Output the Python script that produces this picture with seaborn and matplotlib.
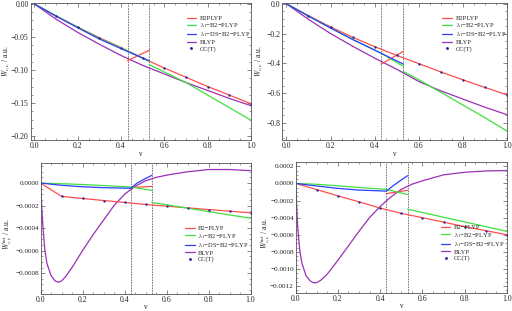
import matplotlib
matplotlib.use('Agg')
import matplotlib.pyplot as plt
import seaborn as sns
import pandas as pd
from matplotlib.ticker import AutoMinorLocator, FuncFormatter, MultipleLocator

sns.set_style('ticks')
plt.rcParams['font.family'] = ['Liberation Serif', 'DejaVu Serif']
plt.rcParams['mathtext.fontset'] = 'stix'

RED = '#ff4d4d'
GREEN = '#3ee03e'
BLUE = '#2f3dff'
PURPLE = '#9b30b5'
DOT = '#2b2b9c'
FRAME = '#555555'

# ---------------- data ----------------
nu_line = [0.0, 0.1, 0.2, 0.3, 0.4, 0.5, 0.6, 0.7, 0.8, 0.9, 1.0]
nu_dots = [0.1, 0.2, 0.3, 0.4, 0.5, 0.6, 0.7, 0.8, 0.9, 1.0]
nu_left = [0.0, 0.1, 0.2, 0.3, 0.43]
nu_mid = [0.43, 0.46, 0.5, 0.53]
nu_low = [0.0, 0.1, 0.2, 0.3, 0.43, 0.53]
nu_high = [0.53, 0.6, 0.7, 0.8, 0.9, 1.0]
nu_x = [0.43, 0.53]
nu_blyp = [0.0, 0.1, 0.2, 0.3, 0.4, 0.5, 0.6, 0.7, 0.8, 0.9, 1.0]
nu_blyp_int = [0.0, 0.01, 0.02, 0.03, 0.05, 0.07, 0.085, 0.1, 0.12, 0.15, 0.2,
               0.25, 0.3, 0.35, 0.4, 0.45, 0.5, 0.55, 0.6, 0.7, 0.8, 0.9, 1.0]

# top left: W_c,nu
tl_b2plyp = [0.0, -0.018, -0.035, -0.051, -0.066, -0.082, -0.097, -0.111, -0.125, -0.138, -0.151]
tl_cc = [-0.018, -0.035, -0.051, -0.066, -0.082, -0.097, -0.111, -0.125, -0.138, -0.151]
tl_b2plyp_x = [-0.086, -0.070]
tl_l1_low = [0.0, -0.018, -0.035, -0.052, -0.071, -0.087]
tl_l1_high = [-0.092, -0.103, -0.119, -0.138, -0.157, -0.176]
tl_ds = [0.0, -0.0185, -0.036, -0.053, -0.072, -0.086]
tl_blyp = [0.0, -0.023, -0.043, -0.061, -0.078, -0.093, -0.106, -0.119, -0.131, -0.143, -0.154]

# top right: W_c,nu
tr_b2plyp = [0.0, -0.080, -0.155, -0.225, -0.288, -0.347, -0.402, -0.458, -0.511, -0.562, -0.612]
tr_cc = [-0.080, -0.155, -0.225, -0.288, -0.347, -0.402, -0.458, -0.511, -0.562, -0.612]
tr_b2plyp_x = [-0.405, -0.320]
tr_l1_low = [0.0, -0.082, -0.162, -0.238, -0.333, -0.420]
tr_l1_high = [-0.455, -0.510, -0.595, -0.680, -0.765, -0.855]
tr_ds = [0.0, -0.083, -0.163, -0.240, -0.333, -0.405]
tr_blyp = [0.0, -0.105, -0.200, -0.285, -0.365, -0.440, -0.522, -0.585, -0.640, -0.695, -0.745]

# bottom left: W^int_c,nu
bl_b2plyp = [0.0, -0.000118, -0.000137, -0.000155, -0.000172, -0.000190,
             -0.000205, -0.000220, -0.000235, -0.000250, -0.000264]
bl_cc = [-0.000118, -0.000137, -0.000155, -0.000172, -0.000190,
         -0.000205, -0.000220, -0.000235, -0.000250, -0.000264]
bl_b2plyp_x = [-0.000040, -0.000030]
bl_l1_low = [0.0, -0.000006, -0.000013, -0.000022, -0.000035, -0.000065]
bl_l1_high = [-0.000172, -0.000193, -0.000223, -0.000253, -0.000283, -0.000312]
bl_ds_left = [0.0, -0.000020, -0.000033, -0.000041, -0.000046]
bl_ds_mid = [-0.000046, 0.0, 0.000040, 0.000068]
bl_blyp = [0.0, -0.00035, -0.00058, -0.00071, -0.00082, -0.00087, -0.00088, -0.00087,
           -0.00083, -0.00075, -0.00060, -0.00046, -0.00033, -0.00020, -0.00010,
           -0.00003, 0.00002, 0.00005, 0.00007, 0.00010, 0.00012, 0.00012, 0.00011]

# bottom right: W^int_c,nu
br_b2plyp = [0.0, -0.000072, -0.000145, -0.000215, -0.000288, -0.000350,
             -0.000400, -0.000452, -0.000505, -0.000552, -0.000600]
br_cc = [-0.000072, -0.000145, -0.000215, -0.000288, -0.000350,
         -0.000400, -0.000452, -0.000505, -0.000552, -0.000600]
br_b2plyp_x = [-0.000120, -0.000080]
br_l1_low = [0.0, -0.000010, -0.000028, -0.000048, -0.000070, -0.000130]
br_l1_high = [-0.000300, -0.000340, -0.000395, -0.000450, -0.000505, -0.000560]
br_ds_left = [0.0, -0.000030, -0.000058, -0.000078, -0.000090]
br_ds_mid = [-0.000090, -0.000030, 0.000040, 0.000090]
br_blyp = [0.0, -0.00050, -0.00078, -0.00093, -0.00108, -0.00114, -0.00116, -0.00116,
           -0.00113, -0.00106, -0.00090, -0.00073, -0.00056, -0.00040, -0.00027,
           -0.00016, -0.00007, -0.00001, 0.00003, 0.00010, 0.00013, 0.000145, 0.00015]

LEG_FS = 4.7


def minus(fmt):
    def f(v, pos):
        s = fmt.format(v)
        if s.startswith('-') and float(s) == 0:
            s = s[1:]
        return s.replace('-', '\u2212')
    return FuncFormatter(f)


def line(ax, x, y, color, label=None, lw=0.9):
    sns.lineplot(x=x, y=y, ax=ax, color=color, lw=lw, label=label, sort=False,
                 legend=False)


def style(ax, xlim, ylim, ystep, yfmt, ylabel, ylab_xy, xlab_y, fs):
    ax.set_xlim(*xlim)
    ax.set_ylim(*ylim)
    ax.xaxis.set_major_locator(MultipleLocator(0.2))
    ax.yaxis.set_major_locator(MultipleLocator(ystep))
    ax.xaxis.set_minor_locator(AutoMinorLocator(4))
    ax.yaxis.set_minor_locator(AutoMinorLocator(4))
    ax.xaxis.set_major_formatter(minus('{:.1f}'))
    ax.yaxis.set_major_formatter(minus(yfmt))
    ax.tick_params(which='both', direction='in', top=True, right=True,
                   labelsize=fs, color=FRAME, pad=1.2)
    ax.tick_params(axis='x', labelsize=5.6)
    ax.tick_params(which='major', length=3, width=0.5)
    ax.tick_params(which='minor', length=1.5, width=0.4)
    for s in ax.spines.values():
        s.set_color(FRAME)
        s.set_linewidth(0.6)
    for v in (0.43, 0.53):
        ax.axvline(v, color='#666666', lw=0.6, ls=(0, (2, 1.2)), zorder=1)
    ax.set_xlabel('\u03bd', fontsize=5.6)
    ax.xaxis.set_label_coords(0.5, xlab_y)
    ax.set_ylabel(ylabel, fontsize=5.5)
    ax.yaxis.set_label_coords(*ylab_xy)


def panel(ax, names, b2, cc, b2x, l1_low, l1_high, ds_parts, blyp, nu_bl):
    ds_x, ds_y = ds_parts
    line(ax, nu_bl, blyp, PURPLE, names[3])
    line(ax, nu_line, b2, RED, names[0])
    line(ax, nu_x, b2x, RED)
    line(ax, nu_low, l1_low, GREEN, names[1])
    line(ax, nu_high, l1_high, GREEN)
    for i, (xx, yy) in enumerate(zip(ds_x, ds_y)):
        line(ax, xx, yy, BLUE, names[2] if i == 0 else None)
    sns.scatterplot(x=nu_dots, y=cc, ax=ax, color=DOT, s=3, linewidth=0,
                    label=names[4], legend=False, zorder=5)
    h, l = ax.get_legend_handles_labels()
    order = [names.index(t) for t in l]
    pairs = sorted(zip(order, h, l))
    return [p[1] for p in pairs], [p[2] for p in pairs]


def legend(ax, h, l, loc, anchor):
    ax.legend(h, l, loc=loc, bbox_to_anchor=anchor, frameon=False,
              fontsize=LEG_FS, handlelength=1.5, handletextpad=0.5,
              labelspacing=0.05, borderaxespad=0.0, borderpad=0.0,
              markerscale=1.2)


fig = plt.figure(figsize=(5.12, 3.11), dpi=100)
W, H = 512, 311


def add_axes(l, r, t, b):
    return fig.add_axes([l / W, 1 - b / H, (r - l) / W, (b - t) / H])


ax_tl = add_axes(30.5, 251, 3, 140)
ax_tr = add_axes(282, 507, 3, 140)
ax_bl = add_axes(40.5, 250.5, 163, 294)
ax_br = add_axes(295.5, 507, 162, 293)

names_top = ['B2PLYP', '\u03bb$_1$\u2212B2\u2212PLYP', '\u03bb$_1$\u2212DS\u2212B2\u2212PLYP',
             'BLYP', 'CC(T)']
names_bot = ['B2\u2212PLYP', '\u03bb$_1$\u2212B2\u2212PLYP', '\u03bb$_1$\u2212DS\u2212B2\u2212PLYP',
             'BLYP', 'CC(T)']

h, l = panel(ax_tl, names_top, tl_b2plyp, tl_cc, tl_b2plyp_x, tl_l1_low, tl_l1_high,
             ([nu_low], [tl_ds]), tl_blyp, nu_blyp)
style(ax_tl, (-0.018, 1.0), (-0.206, 0.0015), 0.05, '{:.2f}', r'$W_{c,\nu}$ / a.u.',
      (-0.09, 0.58), -0.075, 5.6)
legend(ax_tl, h, l, 'upper right', (0.995, 0.91))

h, l = panel(ax_tr, names_top, tr_b2plyp, tr_cc, tr_b2plyp_x, tr_l1_low, tr_l1_high,
             ([nu_low], [tr_ds]), tr_blyp, nu_blyp)
style(ax_tr, (-0.02, 1.0), (-0.915, 0.005), 0.2, '{:.1f}', r'$W_{c,\nu}$ / a.u.',
      (-0.078, 0.58), -0.075, 5.6)
legend(ax_tr, h, l, 'upper right', (0.995, 0.91))

h, l = panel(ax_bl, names_bot, bl_b2plyp, bl_cc, bl_b2plyp_x, bl_l1_low, bl_l1_high,
             ([nu_left, nu_mid], [bl_ds_left, bl_ds_mid]), bl_blyp, nu_blyp_int)
style(ax_bl, (0.0, 1.0), (-0.000985, 0.000178), 0.0002, '{:.4f}',
      r'$W^{\rm int}_{c,\nu}$ / a.u.', (-0.124, 0.46), -0.065, 5.2)
legend(ax_bl, h, l, 'lower right', (0.99, 0.245))

h, l = panel(ax_br, names_bot, br_b2plyp, br_cc, br_b2plyp_x, br_l1_low, br_l1_high,
             ([nu_left, nu_mid], [br_ds_left, br_ds_mid]), br_blyp, nu_blyp_int)
style(ax_br, (0.0, 1.0), (-0.00128, 0.00025), 0.0002, '{:.4f}',
      r'$W^{\rm int}_{c,\nu}$ / a.u.', (-0.112, 0.455), -0.065, 5.2)
legend(ax_br, h, l, 'lower right', (0.986, 0.245))

fig.savefig('out.png', dpi=100)
